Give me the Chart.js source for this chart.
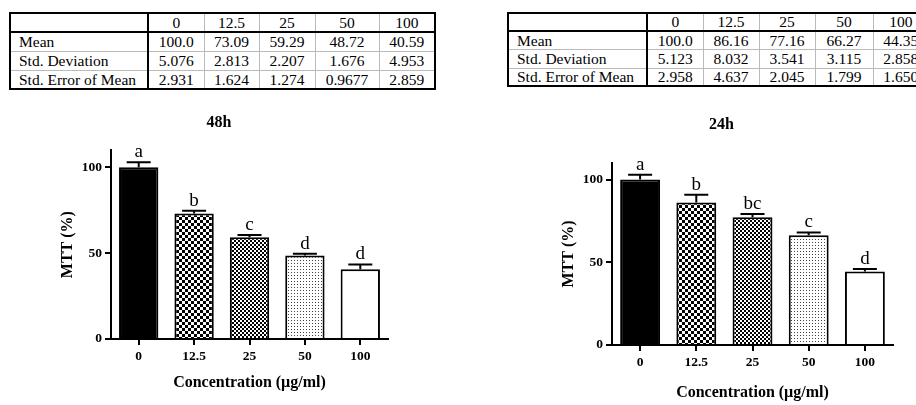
<!DOCTYPE html>
<html>
<head>
<meta charset="utf-8">
<script src="https://cdn.jsdelivr.net/npm/chart.js@4.4.1/dist/chart.umd.min.js"></script>
<style>
  html, body { margin: 0; padding: 0; background: #fff; }
  body { width: 916px; height: 405px; position: relative; overflow: hidden; font-family: 'Liberation Serif', 'Times New Roman', serif; }
  table { position: absolute; border-collapse: collapse; table-layout: fixed; font-size: 15.5px; color: #000; border: 2px solid #000; }
  td { border: 1px solid #bbb; text-align: center; padding: 0; white-space: nowrap; line-height: 1; }
  td.lab { text-align: left; padding-left: 8px; border-right: 2px solid #000; }
  tr.head td { border-bottom: 2px solid #000; }
  canvas { position: absolute; }
</style>
</head>
<body>
<table id="t48" style="left:9px; top:12px; width:425px;">
  <colgroup><col style="width:138px"><col style="width:56px"><col style="width:55px"><col style="width:56px"><col style="width:64px"><col style="width:56px"></colgroup>
</table>
<table id="t24" style="left:507px; top:12px; width:421px;">
  <colgroup><col style="width:139px"><col style="width:56px"><col style="width:56px"><col style="width:56px"><col style="width:58px"><col style="width:56px"></colgroup>
</table>
<canvas id="c48" width="350" height="300" style="left:50px; top:100px;"></canvas>
<canvas id="c24" width="366" height="305" style="left:550px; top:100px;"></canvas>
<script>
'use strict'

const concentrations = ['0', '12.5', '25', '50', '100']
const rowNames = ['Mean', 'Std. Deviation', 'Std. Error of Mean']

const mean48 = [100.0, 73.09, 59.29, 48.72, 40.59]
const sd48 = [5.076, 2.813, 2.207, 1.676, 4.953]
const sem48 = [2.931, 1.624, 1.274, 0.9677, 2.859]
const letters48 = ['a', 'b', 'c', 'd', 'd']

const mean24 = [100.0, 86.16, 77.16, 66.27, 44.35]
const sd24 = [5.123, 8.032, 3.541, 3.115, 2.858]
const sem24 = [2.958, 4.637, 2.045, 1.799, 1.650]
const letters24 = ['a', 'b', 'bc', 'c', 'd']

const yTicks = [0, 50, 100]

const fillTable = (id, rows, heights) => {
  const t = document.getElementById(id)
  const head = document.createElement('tr')
  head.className = 'head'
  head.style.height = heights[0] + 'px'
  head.innerHTML = '<td class="lab"></td>' + concentrations.map(c => '<td>' + c + '</td>').join('')
  t.appendChild(head)
  rows.forEach((vals, i) => {
    const tr = document.createElement('tr')
    tr.style.height = heights[i + 1] + 'px'
    tr.innerHTML = '<td class="lab">' + rowNames[i] + '</td>' +
      vals.map(v => '<td>' + v.toPrecision(4) + '</td>').join('')
    t.appendChild(tr)
  })
}

fillTable('t48', [mean48, sd48, sem48], [19, 19, 19, 19])
fillTable('t24', [mean24, sd24, sem24], [18, 18, 19, 18])

const makePattern = (ctx, size, draw) => {
  const c = document.createElement('canvas')
  c.width = size
  c.height = size
  const g = c.getContext('2d')
  g.fillStyle = '#fff'
  g.fillRect(0, 0, size, size)
  g.fillStyle = '#000'
  draw(g)
  return ctx.createPattern(c, 'repeat')
}

const barFills = ctx => [
  '#000',
  makePattern(ctx, 6, g => { g.fillRect(0, 0, 3, 3); g.fillRect(3, 3, 3, 3) }),
  makePattern(ctx, 4, g => { g.fillRect(0, 0, 2, 2); g.fillRect(2, 2, 2, 2) }),
  makePattern(ctx, 3, g => { g.fillStyle = '#444'; g.fillRect(1, 1, 1, 1) }),
  '#fff'
]

const errorBars = {
  id: 'errorBars',
  afterDatasetsDraw (chart, args, opts) {
    const ctx = chart.ctx
    const y = chart.scales.y
    const meta = chart.getDatasetMeta(0)
    ctx.save()
    ctx.strokeStyle = '#000'
    ctx.lineWidth = 2
    ctx.fillStyle = '#000'
    ctx.font = '19px "Liberation Serif", "Times New Roman", serif'
    ctx.textAlign = 'center'
    ctx.textBaseline = 'alphabetic'
    meta.data.forEach((bar, i) => {
      const top = y.getPixelForValue(opts.means[i] + opts.sems[i])
      ctx.beginPath()
      ctx.moveTo(bar.x, bar.y)
      ctx.lineTo(bar.x, top)
      ctx.moveTo(bar.x - 12, top)
      ctx.lineTo(bar.x + 12, top)
      ctx.stroke()
      ctx.fillText(opts.letters[i], bar.x, top - 5)
    })
    ctx.restore()
  }
}

const serif = '"Liberation Serif", "Times New Roman", serif'

const makeChart = (id, cfg) => {
  const ctx = document.getElementById(id).getContext('2d')
  return new Chart(ctx, {
    type: 'bar',
    data: {
      labels: concentrations,
      datasets: [{
        data: cfg.means,
        backgroundColor: barFills(ctx),
        borderColor: '#000',
        borderWidth: 2,
        barPercentage: 0.71,
        categoryPercentage: 1
      }]
    },
    options: {
      responsive: false,
      animation: false,
      layout: { padding: { left: 0, right: cfg.padRight, top: 0, bottom: 0 } },
      plugins: {
        legend: { display: false },
        tooltip: { enabled: false },
        title: {
          display: true,
          text: cfg.title,
          color: '#000',
          font: { family: serif, size: 16, weight: 'bold', lineHeight: 1.2 },
          padding: { top: cfg.titleTop, bottom: cfg.titleBottom }
        },
        errorBars: { means: cfg.means, sems: cfg.sems, letters: cfg.letters }
      },
      scales: {
        x: {
          afterFit: s => { s.height = cfg.xHeight },
          border: { color: '#000', width: 2 },
          grid: { display: true, drawOnChartArea: false, drawTicks: true, tickLength: 6, color: '#000', lineWidth: 2, offset: false },
          ticks: { color: '#000', padding: 3, font: { family: serif, size: 13.5, weight: 'bold' } },
          title: {
            display: true,
            text: 'Concentration (µg/ml)',
            color: '#000',
            font: { family: serif, size: 16, weight: 'bold', lineHeight: 1.2 },
            padding: { top: 0, bottom: cfg.xTitleBottom }
          }
        },
        y: {
          min: 0,
          max: 110,
          afterFit: s => { s.width = cfg.yWidth },
          afterBuildTicks: s => { s.ticks = yTicks.map(v => ({ value: v })) },
          border: { color: '#000', width: 2 },
          grid: { display: true, drawOnChartArea: false, drawTicks: true, tickLength: 6, color: '#000', lineWidth: 2 },
          ticks: { color: '#000', padding: 3, font: { family: serif, size: 13.5, weight: 'bold' } },
          title: {
            display: true,
            text: 'MTT (%)',
            color: '#000',
            font: { family: serif, size: 16, weight: 'bold', lineHeight: 1.2 },
            padding: { top: cfg.yTitleTop, bottom: 0 }
          }
        }
      }
    },
    plugins: [errorBars]
  })
}

makeChart('c48', {
  title: '48h', means: mean48, sems: sem48, letters: letters48,
  padRight: 12, titleTop: 13, titleBottom: 18, xHeight: 61, xTitleBottom: 7.4, yWidth: 61, yTitleTop: 8.4
})

makeChart('c24', {
  title: '24h', means: mean24, sems: sem24, letters: letters24,
  padRight: 23, titleTop: 15.4, titleBottom: 28.4, xHeight: 60, xTitleBottom: 2.4, yWidth: 62, yTitleTop: 9.4
})
</script>
</body>
</html>
